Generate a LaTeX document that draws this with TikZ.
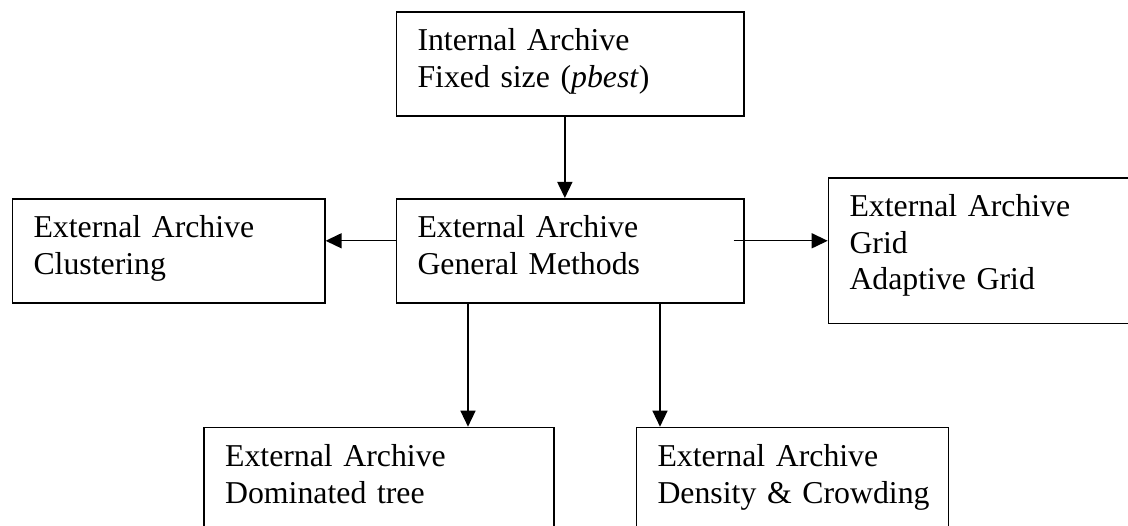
\documentclass[tikz,border=0pt]{standalone}
\usepackage{fontspec}
\setmainfont{Liberation Serif}
\usepackage{tikz}
\usetikzlibrary{arrows,arrows.meta,positioning}

\tikzset{
    archbox/.style={draw, line width=1.6pt, anchor=north west, align=left,
        inner xsep=21pt, inner ysep=0pt, text height=39pt,
        font=\fontsize{31.8}{36.6}\selectfont},
    arr/.style={-{Triangle[width=15pt,length=16pt]}, line width=1.4pt}
}

\begin{document}
\begin{tikzpicture}[x=1pt, y=-1pt]
    \clip (0,0) rectangle (1128,526);
    \node [archbox, text width=305.3pt, text depth=65pt] (internal) at (395.7,11)
        {Internal Archive\\Fixed size (\textit{pbest})};
    \node [archbox, text width=305.3pt, text depth=65pt] (general) at (395.7,198)
        {External Archive\\General Methods};
    \node [archbox, text width=270.3pt, text depth=65pt] (clustering) at (11.7,198)
        {External Archive\\Clustering};
    \node [archbox, text width=278pt, text height=38.4pt, text depth=107pt] (grid) at (827.7,177.3)
        {External Archive\\Grid\\Adaptive Grid};
    \node [archbox, text width=308pt, text depth=71pt] (dominated) at (203.3,426.7)
        {External Archive\\Dominated tree};
    \node [archbox, text width=270pt, text depth=71pt] (density) at (635.7,426.7)
        {External Archive\\\mbox{Density \& Crowding}};

    \draw [arr] ([xshift=-5.3pt]internal.south) -- ([xshift=-5.3pt]internal.south |- general.north);
    \draw [arr] ([yshift=10pt]general.west) -- ([yshift=10pt]general.west -| clustering.east);
    \draw [arr] ([xshift=-11pt,yshift=10pt]general.east) -- ([yshift=10pt]general.east -| grid.west);
    \draw [arr] ([xshift=72.3pt]general.south west) -- ([xshift=72.3pt]general.south west |- dominated.north);
    \draw [arr] ([xshift=264.3pt]general.south west) -- ([xshift=264.3pt]general.south west |- density.north);
\end{tikzpicture}
\end{document}
